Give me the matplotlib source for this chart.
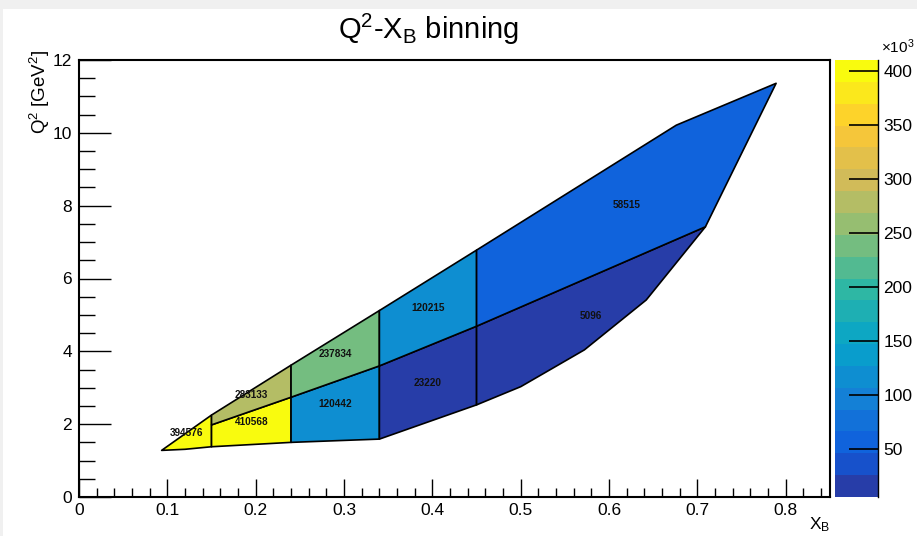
import matplotlib
matplotlib.use("Agg")
import matplotlib.pyplot as plt
import numpy as np
from matplotlib.collections import PolyCollection
from matplotlib.colors import LinearSegmentedColormap, ListedColormap, BoundaryNorm
from matplotlib.patches import Rectangle
from matplotlib.ticker import MultipleLocator, FuncFormatter
import matplotlib.cm as cm

plt.rcParams["font.family"] = ["Liberation Sans", "DejaVu Sans"]
plt.rcParams["mathtext.default"] = "regular"

# --- bin geometry (x_B, Q^2 vertices) and event counts -----------------------
bin_vertices = [
    [(0.0935, 1.28), (0.12, 1.31), (0.15, 1.38), (0.15, 2.25)],
    [(0.15, 1.38), (0.24, 1.50), (0.24, 2.74), (0.15, 1.98)],
    [(0.15, 1.98), (0.24, 2.74), (0.24, 3.62), (0.15, 2.25)],
    [(0.24, 1.50), (0.34, 1.59), (0.34, 3.60), (0.24, 2.74)],
    [(0.24, 2.74), (0.34, 3.60), (0.34, 5.12), (0.24, 3.62)],
    [(0.34, 1.59), (0.45, 2.53), (0.45, 4.69), (0.34, 3.60)],
    [(0.34, 3.60), (0.45, 4.69), (0.45, 6.78), (0.34, 5.12)],
    [(0.45, 2.53), (0.50, 3.03), (0.572, 4.04), (0.642, 5.41),
     (0.709, 7.42), (0.45, 4.69)],
    [(0.45, 4.69), (0.709, 7.42), (0.789, 11.36), (0.676, 10.21),
     (0.45, 6.78)],
]
bin_counts = [394576, 410568, 283133, 120442, 237834, 23220, 120215, 5096, 58515]

cbar_ticks = [50000, 100000, 150000, 200000, 250000, 300000, 350000, 400000]

# --- "bird" palette with 20 contour levels -----------------------------------
stops = [0.0, 0.125, 0.25, 0.375, 0.5, 0.625, 0.75, 0.875, 1.0]
red = [0.2082, 0.0592, 0.0780, 0.0232, 0.1802, 0.5301, 0.8186, 0.9956, 0.9764]
green = [0.1664, 0.3599, 0.5041, 0.6419, 0.7178, 0.7492, 0.7328, 0.7862, 0.9832]
blue = [0.5293, 0.8684, 0.8385, 0.7914, 0.6425, 0.4662, 0.3499, 0.1968, 0.0539]
bird = LinearSegmentedColormap.from_list(
    "bird", list(zip(stops, zip(red, green, blue))), N=255)
ndiv = 20
ncol = 255
level_colors = [bird(int((i + 0.99) * ncol / ndiv) / (ncol - 1)) for i in range(ndiv)]
cmap = ListedColormap(level_colors)
zmin, zmax = min(bin_counts), max(bin_counts)
levels = np.linspace(zmin, zmax, ndiv + 1)
norm = BoundaryNorm(levels, ndiv, clip=True)

# --- figure --------------------------------------------------------------------
W, H = 917, 536
fig = plt.figure(figsize=(W / 100, H / 100), dpi=100)
fig.patch.set_facecolor("#f0f0f0")
fig.patches.append(Rectangle((3 / W, 0), 1, 1 - 9 / H, transform=fig.transFigure,
                             facecolor="white", edgecolor="none", zorder=-10))

ax = fig.add_axes([79 / W, 39 / H, 751 / W, 437 / H])
ax.set_xlim(0, 0.85)
ax.set_ylim(0, 12)

pc = PolyCollection(bin_vertices, array=np.array(bin_counts, dtype=float),
                    cmap=cmap, norm=norm, edgecolors="black", linewidths=1.2)
ax.add_collection(pc)

# counts written at the centre of each bin's bounding box
for verts, n in zip(bin_vertices, bin_counts):
    xs = [v[0] for v in verts]
    ys = [v[1] for v in verts]
    ax.text((min(xs) + max(xs)) / 2, (min(ys) + max(ys)) / 2, str(n),
            ha="center", va="center", fontsize=7.2, fontweight="bold",
            color="#111111")

ax.xaxis.set_major_locator(MultipleLocator(0.1))
ax.xaxis.set_minor_locator(MultipleLocator(0.02))
ax.yaxis.set_major_locator(MultipleLocator(2))
ax.yaxis.set_minor_locator(MultipleLocator(0.5))
ax.xaxis.set_major_formatter(FuncFormatter(lambda v, p: "0" if abs(v) < 1e-9 else f"{v:.1f}"))
ax.tick_params(axis="x", which="major", direction="in", length=13, width=1,
               labelsize=12.5, pad=4, top=False)
ax.tick_params(axis="x", which="minor", direction="in", length=6.5, width=1, top=False)
ax.tick_params(axis="y", which="major", direction="in", length=23, width=1,
               labelsize=12.5, pad=5, right=False)
ax.tick_params(axis="y", which="minor", direction="in", length=11.5, width=1, right=False)
for s in ax.spines.values():
    s.set_linewidth(1.5)

fig.text(429 / W, 1 - 39 / H, "Q$^{2}$-X$_{B}$ binning", ha="center",
         va="baseline", fontsize=21)
fig.text(40 / W, 1 - 50 / H, "Q$^{2}$ [GeV$^{2}$]", rotation=90, ha="center",
         va="top", fontsize=13.5)
fig.text(830 / W, 1 - 515 / H, "X$_{B}$", ha="right", va="top", fontsize=12.5)

# --- palette axis --------------------------------------------------------------
cax = fig.add_axes([835 / W, 39 / H, 43 / W, 437 / H])
sm = cm.ScalarMappable(norm=norm, cmap=cmap)
cbar = fig.colorbar(sm, cax=cax, boundaries=levels, spacing="proportional")
cbar.outline.set_visible(False)
cbar.set_ticks(cbar_ticks)
cbar.set_ticklabels([str(t // 1000) for t in cbar_ticks])
cax.yaxis.set_ticks_position("right")
cax.tick_params(axis="y", direction="in", length=21, width=1.2, labelsize=12.5, pad=4)
cax.minorticks_off()
cax.plot([1, 1], [0, 1], transform=cax.transAxes, color="black", lw=1, clip_on=False)
fig.text(881 / W, 1 - 56 / H, "×10$^{3}$", ha="left", va="bottom", fontsize=11)

fig.savefig("out.png", dpi=100, facecolor=fig.get_facecolor())
